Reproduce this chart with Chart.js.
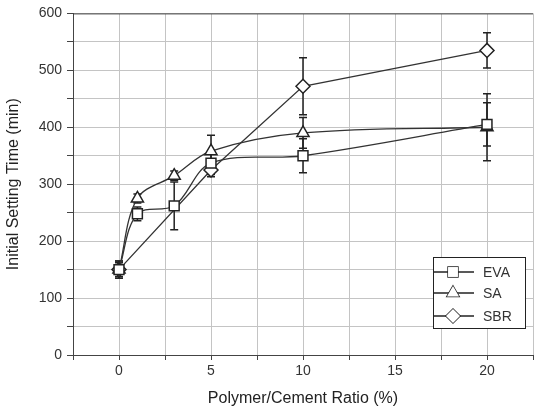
<!DOCTYPE html>
<html>
<head>
<meta charset="utf-8">
<script src="https://cdn.jsdelivr.net/npm/chart.js@4"></script>
<style>
  html, body { margin: 0; padding: 0; background: #fff; }
  #wrap { width: 534px; height: 412px; }
</style>
</head>
<body>
<div id="wrap"><canvas id="setChart" width="534" height="412"></canvas></div>
<script>
// polymer/cement ratio (%) and initial setting time (min)
const evaX = [0, 1, 3, 5, 10, 20];
const evaY = [150, 248, 262, 337, 350, 405];
const evaErr = [15, 12, 42, 20, 30, 38];

const saX = [0, 1, 3, 5, 10, 20];
const saY = [150, 275, 315, 358, 390, 400];
const saErr = [12, 8, 8, 28, 27, 59];

const sbrX = [0, 5, 10, 20];
const sbrY = [150, 325, 472, 535];
const sbrErr = [15, 12, 50, 31];

const xTicks = [0, 5, 10, 15, 20];
const yTicks = [0, 100, 200, 300, 400, 500, 600];

const ink = '#222';
const gridCol = '#c4c4c4';
const fontFam = '"Liberation Sans", Arial, sans-serif';

function pts(xs, ys) {
    return xs.map((x, i) => ({ x: x, y: ys[i] }));
}

// error bars drawn through the chart scales
const errorBars = {
    id: 'errorBars',
    beforeDatasetsDraw(chart) {
        const ctx = chart.ctx;
        const xs = chart.scales.x, ys = chart.scales.y;
        ctx.save();
        ctx.strokeStyle = ink;
        ctx.lineWidth = 1.5;
        chart.data.datasets.forEach(ds => {
            ds.data.forEach((p, i) => {
                const e = ds.errors[i];
                const px = xs.getPixelForValue(p.x);
                const top = ys.getPixelForValue(p.y + e);
                const bot = ys.getPixelForValue(p.y - e);
                ctx.beginPath();
                ctx.moveTo(px, top); ctx.lineTo(px, bot);
                ctx.moveTo(px - 4, top); ctx.lineTo(px + 4, top);
                ctx.moveTo(px - 4, bot); ctx.lineTo(px + 4, bot);
                ctx.stroke();
            });
        });
        ctx.restore();
    }
};

// frame around the plot and a legend with line + marker
const frameLegend = {
    id: 'frameLegend',
    afterDraw(chart) {
        const ctx = chart.ctx;
        const a = chart.chartArea;
        ctx.save();
        ctx.strokeStyle = '#444';
        ctx.lineWidth = 1;
        ctx.beginPath();
        ctx.moveTo(a.left, a.top + 0.5); ctx.lineTo(a.right, a.top + 0.5);
        ctx.stroke();

        // legend box
        const bx = 433, by = 257, bw = 92, bh = 71;
        const rows = [15, 36, 59];
        ctx.fillStyle = '#fff';
        ctx.fillRect(bx, by, bw, bh);
        ctx.strokeStyle = ink;
        ctx.strokeRect(bx + 0.5, by + 0.5, bw, bh);
        ctx.font = '14px ' + fontFam;
        ctx.textBaseline = 'middle';
        chart.data.datasets.forEach((ds, i) => {
            const y = by + rows[i];
            ctx.strokeStyle = ink;
            ctx.lineWidth = 1.5;
            ctx.beginPath();
            ctx.moveTo(bx, y); ctx.lineTo(bx + 41, y);
            ctx.stroke();
            ctx.fillStyle = '#fff';
            Chart.helpers.drawPoint(ctx, {
                pointStyle: ds.pointStyle,
                radius: ds.pointRadius,
                borderWidth: 1.5,
                rotation: 0
            }, bx + 20, y);
            ctx.fill();
            ctx.fillStyle = '#333';
            ctx.fillText(ds.label, bx + 50, y + 1);
        });
        ctx.restore();
    }
};

function series(label, xs, ys, errs, style, tension) {
    return {
        label: label,
        data: pts(xs, ys),
        errors: errs,
        borderColor: '#333',
        borderWidth: 1.3,
        pointStyle: style,
        pointRadius: 7,
        pointHoverRadius: 7,
        pointBorderWidth: 1.5,
        pointBorderColor: ink,
        pointBackgroundColor: '#fff',
        tension: tension,
        fill: false,
        clip: false
    };
}

const ctx = document.getElementById('setChart').getContext('2d');
const setChart = new Chart(ctx, {
    type: 'line',
    data: {
        datasets: [
            series('EVA', evaX, evaY, evaErr, 'rect', 0.35),
            series('SA', saX, saY, saErr, 'triangle', 0.35),
            series('SBR', sbrX, sbrY, sbrErr, 'rectRot', 0)
        ]
    },
    options: {
        responsive: false,
        animation: false,
        layout: { autoPadding: false, padding: { top: 12, right: 1, left: 0, bottom: 0 } },
        plugins: {
            legend: { display: false },
            tooltip: { enabled: false }
        },
        scales: {
            x: {
                type: 'linear',
                min: -2.5,
                max: 22.5,
                afterFit(s) { s.height = 57; s.paddingRight = 0; s.paddingLeft = 0; },
                ticks: {
                    stepSize: 2.5,
                    autoSkip: false,
                    maxRotation: 0,
                    color: '#333',
                    padding: 3,
                    font: { family: fontFam, size: 14 },
                    callback: v => xTicks.includes(v) ? String(v) : ''
                },
                grid: { color: gridCol, tickColor: '#444', tickLength: 5 },
                border: { color: '#444', width: 1 },
                title: {
                    display: true,
                    text: 'Polymer/Cement Ratio (%)',
                    color: '#222',
                    padding: { top: 3 },
                    font: { family: fontFam, size: 16 }
                }
            },
            y: {
                min: 0,
                max: 600,
                afterFit(s) { s.width = 73; },
                ticks: {
                    stepSize: 50,
                    autoSkip: false,
                    color: '#333',
                    padding: 5,
                    font: { family: fontFam, size: 14 },
                    callback: v => yTicks.includes(v) ? String(v) : ''
                },
                grid: { color: gridCol, tickColor: '#444', tickLength: 6 },
                border: { color: '#444', width: 1 },
                title: {
                    display: true,
                    text: 'Initial Setting Time (min)',
                    color: '#222',
                    padding: { bottom: 0 },
                    font: { family: fontFam, size: 16 }
                }
            }
        }
    },
    plugins: [errorBars, frameLegend]
});
</script>
</body>
</html>
